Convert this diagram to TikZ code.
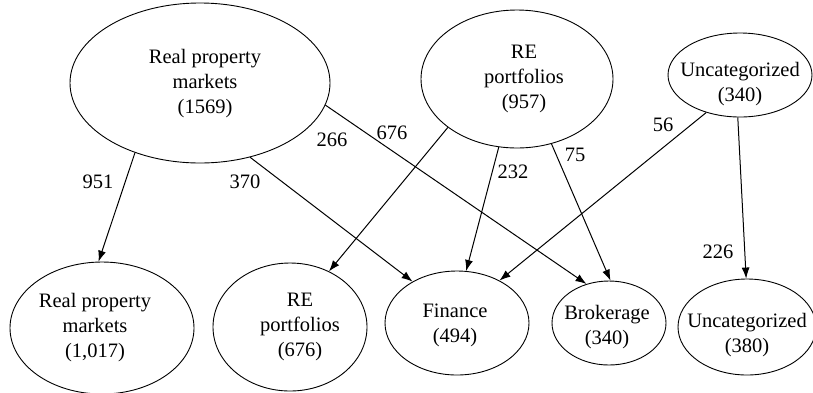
\documentclass[tikz,border=0pt]{standalone}
\usepackage{fontspec}
\setmainfont{Liberation Serif}
\usetikzlibrary{shapes.geometric,arrows.meta}
\begin{document}
\begin{tikzpicture}[x=1pt,y=-1pt,
  oval/.style={ellipse, draw, line width=0.9pt, inner sep=0pt},
  txt/.style={align=center, font=\fontsize{20.5}{25}\selectfont, inner sep=0pt},
  flow/.style={-{Latex[length=11pt,width=8pt]}, line width=1pt},
  num/.style={font=\fontsize{20.5}{25}\selectfont, inner sep=0pt}]
\useasboundingbox (0,0) rectangle (813,392);
% top ellipses
\node[oval, minimum width=260, minimum height=160] (rpm) at (200,83) {};
\node[txt] (rpmT) at (205,84) {Real property\\markets\\(1569)};
\node[oval, minimum width=192, minimum height=138] (rep) at (517,79) {};
\node[txt] (repT) at (524,79) {RE\\portfolios\\(957)};
\node[oval, minimum width=144, minimum height=84] (unc) at (740,75) {};
\node[txt] (uncT) at (740,84) {Uncategorized\\(340)};
% bottom ellipses
\node[oval, minimum width=184, minimum height=132] (rpmB) at (102,328) {};
\node[txt] (rpmBT) at (95,328) {Real property\\markets\\(1,017)};
\node[oval, minimum width=154, minimum height=128] (repB) at (290,327) {};
\node[txt] (repBT) at (300,327) {RE\\portfolios\\(676)};
\node[oval, minimum width=144, minimum height=104] (fin) at (457,323) {};
\node[txt] (finT) at (455,325) {Finance\\(494)};
\node[oval, minimum width=114, minimum height=84] (bro) at (609,323) {};
\node[txt] (broT) at (607,327) {Brokerage\\(340)};
\node[oval, minimum width=138, minimum height=96] (uncB) at (747,327) {};
\node[txt] (uncBT) at (747,335) {Uncategorized\\(380)};
% connectors
\draw[flow] (rpm.227.6) -- (rpmB.93.5);
\draw[flow] (rpm.304.4) -- (fin.137.7);
\draw[flow] (rpm.-10.6) -- (bro.120);
\draw[flow] (rep.215.3) -- (repB.55.4);
\draw[flow] (rep.255) -- (fin.80);
\draw[flow] (rep.298.6) -- (bro.88.6);
\draw[flow] (unc.228) -- (fin.45.7);
\draw[flow] (unc.267) -- (uncB.91);
% labels
\node[num] (l951) at (98,182) {951};
\node[num] (l370) at (245,182) {370};
\node[num] (l266) at (332,140) {266};
\node[num] (l676) at (392,133) {676};
\node[num] (l232) at (513,172) {232};
\node[num] (l75) at (575,155) {75};
\node[num] (l56) at (663,125) {56};
\node[num] (l226) at (718,252) {226};
\end{tikzpicture}
\end{document}
